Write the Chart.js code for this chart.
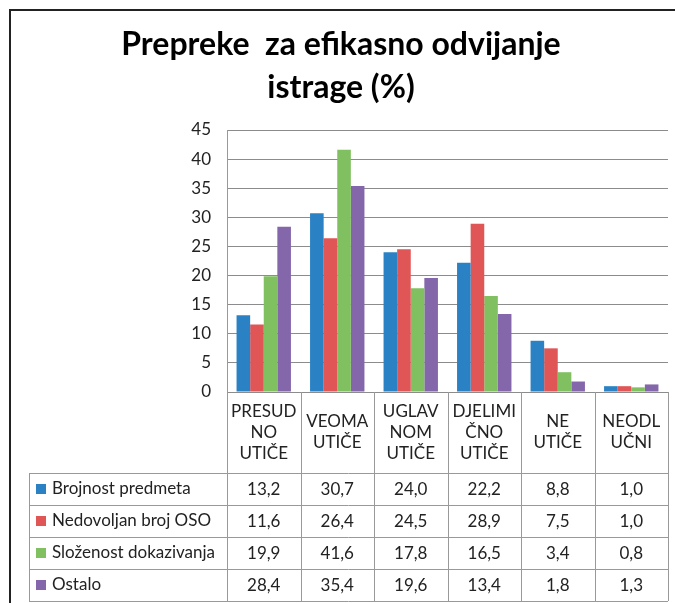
<!DOCTYPE html>
<html>
<head>
<meta charset="utf-8">
<script src="https://cdn.jsdelivr.net/npm/chart.js@4.4.1/dist/chart.umd.min.js"></script>
<style>
  html, body { margin: 0; padding: 0; background: #fff; }
  #wrap { width: 675px; height: 603px; }
</style>
</head>
<body>
<div id="wrap"><canvas id="prepreke" width="675" height="603"></canvas></div>
<script>
// kategorije (x os) - prelomljene kao u tabeli
const categories = [
    ["PRESUD", "NO", "UTIČE"],
    ["VEOMA", "UTIČE"],
    ["UGLAV", "NOM", "UTIČE"],
    ["DJELIMI", "ČNO", "UTIČE"],
    ["NE", "UTIČE"],
    ["NEODL", "UČNI"]
];
const seriesNames = ["Brojnost predmeta", "Nedovoljan broj OSO", "Složenost dokazivanja", "Ostalo"];
const brojnost = [13.2, 30.7, 24.0, 22.2, 8.8, 1.0];
const nedovoljan = [11.6, 26.4, 24.5, 28.9, 7.5, 1.0];
const slozenost = [19.9, 41.6, 17.8, 16.5, 3.4, 0.8];
const ostalo = [28.4, 35.4, 19.6, 13.4, 1.8, 1.3];
const yTicks = [0, 5, 10, 15, 20, 25, 30, 35, 40, 45];

const colors = ["#2A82C4", "#E05656", "#80C060", "#8466AA"];
const FONT = "Lato, 'Open Sans', sans-serif";

// crta okvir, naslov i tabelu sa podacima ispod grafikona
const dataTablePlugin = {
    id: "dataTable",
    afterDraw(chart) {
        const ctx = chart.ctx;
        const area = chart.chartArea;
        const x = chart.scales.x;
        const colW = (area.right - area.left) / categories.length;
        const headBottom = 473;
        const rowH = 32;
        const tableLeft = 29;
        const tableBottom = headBottom + rowH * 4;

        ctx.save();
        // okvir
        ctx.strokeStyle = "#222";
        ctx.lineWidth = 2;
        ctx.beginPath();
        ctx.moveTo(10, 603);
        ctx.lineTo(10, 10);
        ctx.lineTo(675, 10);
        ctx.stroke();

        // naslov
        ctx.fillStyle = "#000";
        ctx.font = "bold 32px " + FONT;
        ctx.textAlign = "center";
        ctx.textBaseline = "middle";
        ctx.fillText("Prepreke  za efikasno odvijanje", 341, 45);
        ctx.fillText("istrage (%)", 341, 88);

        // linije tabele
        ctx.strokeStyle = "#999";
        ctx.lineWidth = 1;
        ctx.beginPath();
        for (let i = 0; i <= categories.length; i++) {
            const lx = Math.round(area.left + i * colW) + 0.5;
            ctx.moveTo(lx, area.bottom);
            ctx.lineTo(lx, tableBottom);
        }
        for (let r = 0; r <= 4; r++) {
            const ly = headBottom + r * rowH + 0.5;
            ctx.moveTo(tableLeft, ly);
            ctx.lineTo(area.right, ly);
        }
        ctx.moveTo(tableLeft + 0.5, headBottom);
        ctx.lineTo(tableLeft + 0.5, tableBottom);
        ctx.stroke();

        // zaglavlje kategorija
        ctx.fillStyle = "#222";
        ctx.font = "17px " + FONT;
        const lineH = 21;
        const headMid = (area.bottom + headBottom) / 2;
        categories.forEach((lines, i) => {
            const cx = x.getPixelForValue(i);
            const startY = headMid - (lines.length - 1) * lineH / 2;
            lines.forEach((t, k) => ctx.fillText(t, cx, startY + k * lineH));
        });

        // redovi sa vrijednostima
        chart.data.datasets.forEach((ds, r) => {
            const cy = headBottom + r * rowH + rowH / 2;
            ctx.fillStyle = colors[r];
            ctx.fillRect(36, cy - 5, 10, 10);
            ctx.fillStyle = "#222";
            ctx.textAlign = "left";
            ctx.fillText(seriesNames[r], 52, cy);
            ctx.textAlign = "center";
            ds.data.forEach((v, i) => {
                ctx.fillText(v.toFixed(1).replace(".", ","), x.getPixelForValue(i), cy + 1);
            });
        });
        ctx.restore();
    }
};

const ctx = document.getElementById("prepreke").getContext("2d");
new Chart(ctx, {
    type: "bar",
    data: {
        labels: categories.map(c => c.join(" ")),
        datasets: [brojnost, nedovoljan, slozenost, ostalo].map((d, i) => ({
            label: seriesNames[i],
            data: d,
            backgroundColor: colors[i],
            borderWidth: 0,
            categoryPercentage: 0.74,
            barPercentage: 1.0,
        })),
    },
    options: {
        responsive: false,
        animation: false,
        layout: {
            padding: { left: 0, right: 7, top: 130, bottom: 211 },
        },
        plugins: {
            legend: { display: false },
            title: { display: false },
            tooltip: { enabled: false },
        },
        scales: {
            x: {
                display: false,
            },
            y: {
                min: 0,
                max: 45,
                afterFit: function (scale) {
                    scale.width = 227;
                },
                afterBuildTicks: function (scale) {
                    scale.ticks = yTicks.map(v => ({ value: v }));
                },
                border: { color: "#999" },
                grid: { color: "#8c8c8c", drawTicks: false },
                ticks: {
                    padding: 16,
                    color: "#222",
                    font: { family: FONT, size: 17 },
                },
            },
        },
    },
    plugins: [dataTablePlugin],
});
</script>
</body>
</html>
